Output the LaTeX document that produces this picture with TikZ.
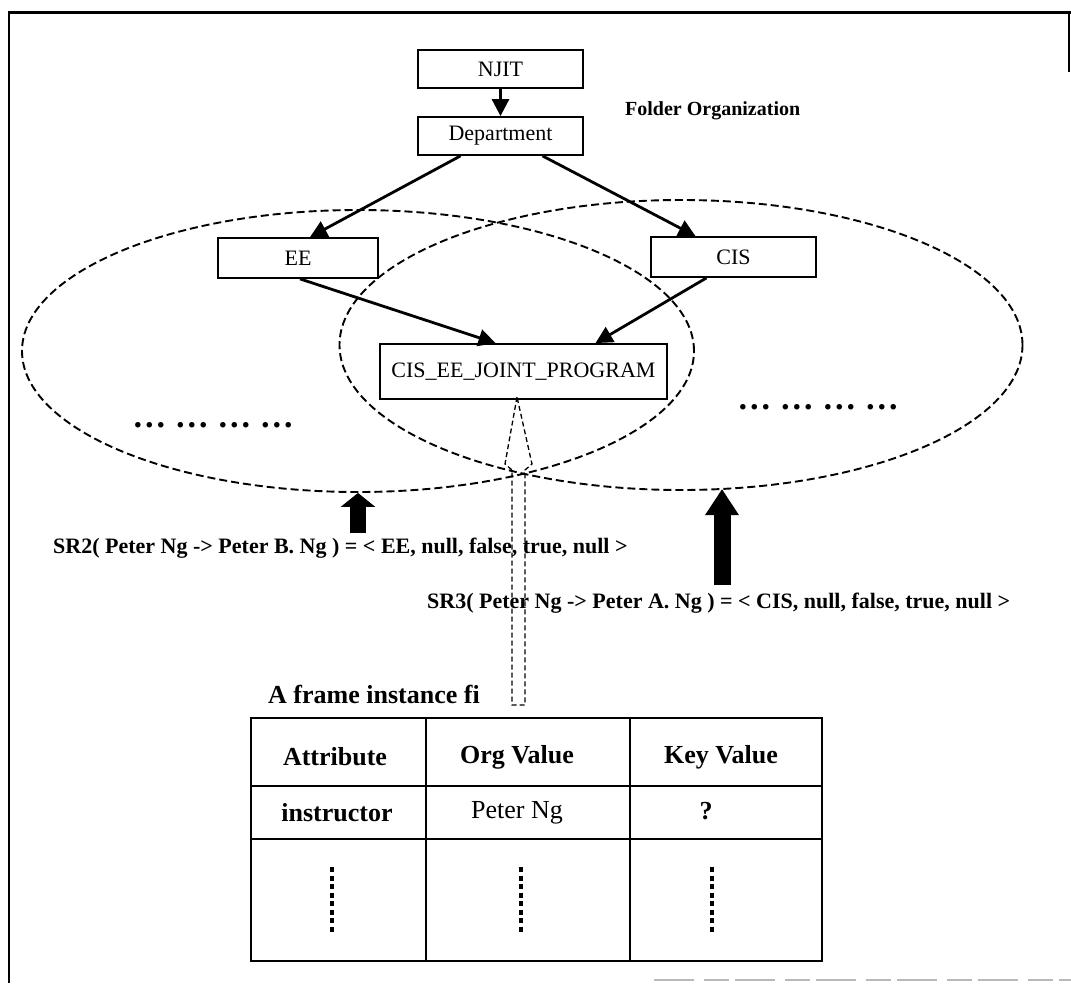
\documentclass[tikz,border=0pt]{standalone}
\usepackage{fontspec}
\setmainfont{Liberation Serif}
\usetikzlibrary{arrows.meta,shapes.geometric,calc}

\tikzset{
  folder/.style={draw, line width=1.8pt, inner sep=0pt,
    font=\fontsize{22}{24}\selectfont},
  link/.style={line width=2.8pt, -{Triangle[length=17pt,width=17pt]}},
  setring/.style={ellipse, draw, line width=1.9pt, dash pattern=on 8pt off 4pt,
    inner sep=0pt},
  probe/.style={line width=1.3pt, dash pattern=on 5pt off 3pt},
  dotrow/.style={inner sep=0pt, font=\fontsize{34}{36}\selectfont\bfseries},
  rulelabel/.style={inner sep=0pt, anchor=west, font=\fontsize{22}{24}\selectfont\bfseries},
  cell/.style={draw, line width=1.8pt, inner sep=0pt},
  celltext/.style={inner sep=0pt, font=\fontsize{26}{28}\selectfont\bfseries},
  tabledots/.style={line width=4.5pt, dash pattern=on 5pt off 3.5pt}
}

\begin{document}
\begin{tikzpicture}[x=1pt,y=-1pt]
\useasboundingbox (0,0) rectangle (1071,983);

% page frame
\draw[line width=3pt] (8,12) -- (1071,12);
\draw[line width=2.6pt] (9,12) -- (9,983);
\draw[line width=1.2pt] (1069,12) -- (1069,72);
\draw[gray!55, line width=1.6pt, dash pattern=on 40pt off 10pt on 25pt off 6pt]
  (654,980) -- (1071,980);

% folder hierarchy
\node[folder, minimum width=165pt, minimum height=38pt] (njit) at (500.5,69) {NJIT};
\node[folder, minimum width=165pt, minimum height=38pt] (dept) at (500.5,136) {Department};
\node[folder, minimum width=160pt, minimum height=40pt] (ee) at (298,258) {EE};
\node[folder, minimum width=165pt, minimum height=40pt] (cis) at (733.5,257) {CIS};
\node[folder, minimum width=287pt, minimum height=55pt] (joint) at (523.5,371.5) {CIS\_EE\_JOINT\_PROGRAM};

\node[inner sep=0pt, anchor=west, font=\fontsize{20}{22}\selectfont\bfseries]
  (title) at (625,111) {Folder Organization};

\draw[link] (njit.south) -- (dept.north);
\draw[link] ([xshift=-40pt]dept.south) -- ([xshift=12pt]ee.north);
\draw[link] ([xshift=42pt]dept.south) -- ([xshift=-38pt]cis.north);
\draw[link] ([xshift=2pt]ee.south) -- ([xshift=-28pt]joint.north);
\draw[link] ([xshift=-27pt]cis.south) -- ([xshift=72pt]joint.north);

% department scopes
\node[setring, minimum width=672pt, minimum height=282pt] (eeset) at (358,351) {};
\node[setring, minimum width=683pt, minimum height=290pt] (cisset) at (681,345) {};

\node[dotrow] (eedots) at (213,425) {… … … …};
\node[dotrow] (cisdots) at (818,407) {… … … …};

% projection of the joint folder onto the frame instance
\draw[probe] (517,397) -- (505,464) -- (512,470) -- (512,705) -- (525,705)
  -- (525,470) -- (532,464) -- cycle;

% substitution rules
\node[rulelabel] (sr2) at (53,548)
  {SR2( Peter Ng -> Peter B. Ng ) = < EE, null, false, true, null >};
\node[rulelabel] (sr3) at (427,603)
  {SR3( Peter Ng -> Peter A. Ng ) = < CIS, null, false, true, null >};

\coordinate (sr2foot) at (358,533);
\coordinate (sr3foot) at (722,585);
\coordinate (sr3tip) at (722,489);
\draw[line width=16pt, -{Triangle[length=14pt,width=34pt]}] (sr2foot) -- (eeset.south);
\draw[line width=17pt, -{Triangle[length=26pt,width=32pt]}] (sr3foot) -- (sr3tip);

% frame instance table
\node[inner sep=0pt, anchor=west, font=\fontsize{26}{28}\selectfont\bfseries]
  (frametitle) at (268,694) {A frame instance fi};

\node[cell, minimum width=175pt, minimum height=68pt] (c11) at (338.5,752) {};
\node[cell, minimum width=204pt, minimum height=68pt] (c12) at (528,752) {};
\node[cell, minimum width=192pt, minimum height=68pt] (c13) at (726,752) {};
\node[cell, minimum width=175pt, minimum height=53pt] (c21) at (338.5,812.5) {};
\node[cell, minimum width=204pt, minimum height=53pt] (c22) at (528,812.5) {};
\node[cell, minimum width=192pt, minimum height=53pt] (c23) at (726,812.5) {};
\node[cell, minimum width=175pt, minimum height=122pt] (c31) at (338.5,900) {};
\node[cell, minimum width=204pt, minimum height=122pt] (c32) at (528,900) {};
\node[cell, minimum width=192pt, minimum height=122pt] (c33) at (726,900) {};

\node[celltext] (t11) at (335,757) {Attribute};
\node[celltext] (t12) at (517,757) {Org Value};
\node[celltext] (t13) at (721,757) {Key Value};
\node[celltext] (t21) at (337,813) {instructor};
\node[celltext, font=\fontsize{26}{28}\selectfont] (t22) at (517,813) {Peter Ng};
\node[celltext] (t23) at (706,811) {?};

\draw[tabledots] ($(c31.center)+(-6.5,-33)$) -- ($(c31.center)+(-6.5,32)$);
\draw[tabledots] ($(c32.center)+(-7,-33)$) -- ($(c32.center)+(-7,32)$);
\draw[tabledots] ($(c33.center)+(-14,-33)$) -- ($(c33.center)+(-14,32)$);
\end{tikzpicture}
\end{document}
